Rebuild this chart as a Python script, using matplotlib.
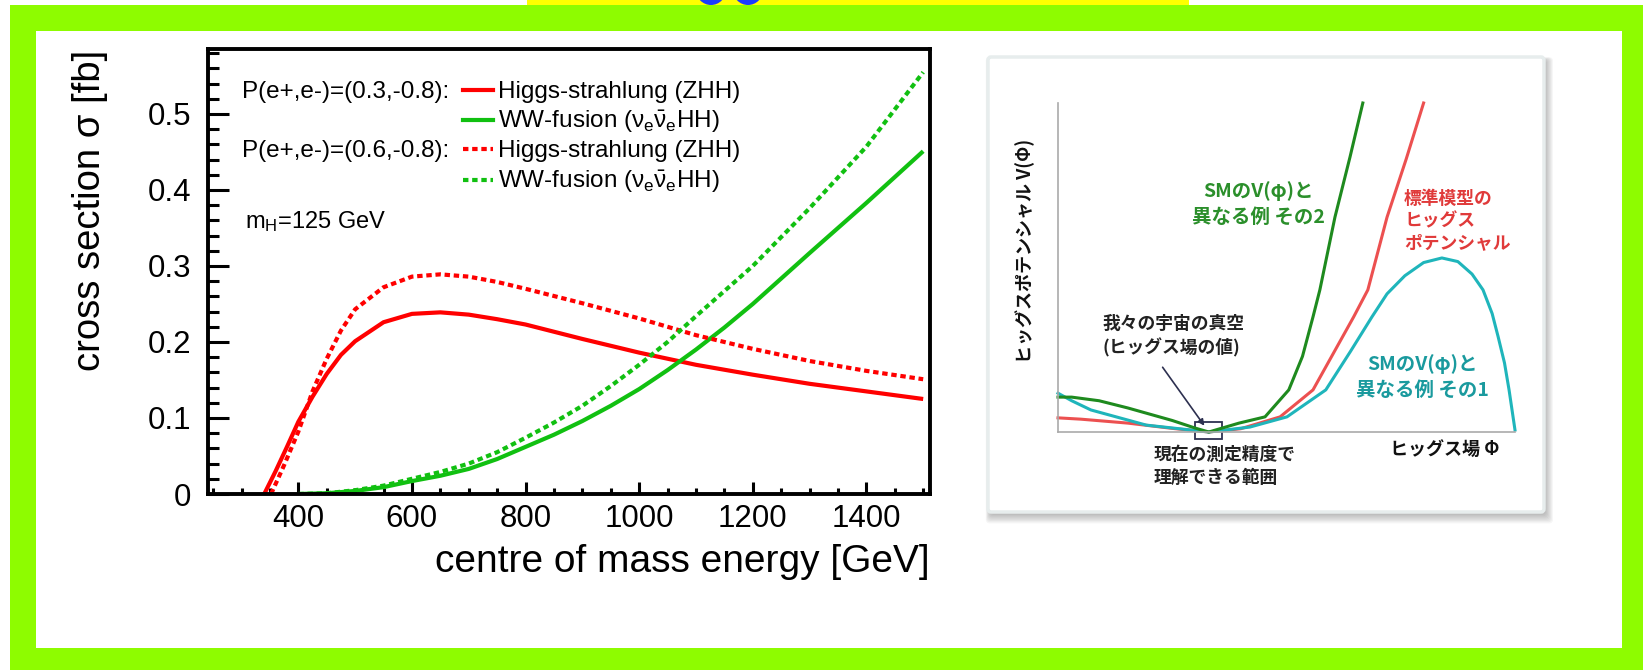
import matplotlib
matplotlib.use("Agg")
import matplotlib.pyplot as plt
import matplotlib.ticker as mticker
from matplotlib.patches import Rectangle, Circle, FancyBboxPatch, FancyArrowPatch
from matplotlib.lines import Line2D

plt.rcParams['font.family'] = ['Liberation Sans', 'DejaVu Sans']
plt.rcParams['mathtext.fontset'] = 'custom'
plt.rcParams['mathtext.rm'] = 'Liberation Sans'
plt.rcParams['mathtext.it'] = 'Liberation Sans'
plt.rcParams['mathtext.bf'] = 'Liberation Sans:bold'

W, H = 1643, 670

# ---- double Higgs production cross sections [fb] vs centre of mass energy [GeV]
zhh_e_pol03 = [340, 360, 380, 400, 425, 450, 475, 500, 550, 600, 650, 700, 750,
               800, 900, 1000, 1100, 1200, 1300, 1400, 1500]
zhh_xs_pol03 = [0.0, 0.030, 0.062, 0.095, 0.128, 0.158, 0.183, 0.201, 0.226, 0.237,
                0.239, 0.236, 0.230, 0.223, 0.204, 0.186, 0.170, 0.157, 0.145,
                0.135, 0.125]
zhh_e_pol06 = [352, 375, 400, 425, 450, 475, 500, 550, 600, 650, 700, 750, 800,
               900, 1000, 1100, 1200, 1300, 1400, 1500]
zhh_xs_pol06 = [0.0, 0.038, 0.082, 0.135, 0.178, 0.215, 0.243, 0.272, 0.286, 0.289,
                0.286, 0.279, 0.270, 0.251, 0.231, 0.209, 0.191, 0.175, 0.162, 0.151]
ww_e = [400, 450, 500, 550, 600, 650, 700, 750, 800, 850, 900, 950, 1000, 1050,
        1100, 1150, 1200, 1300, 1400, 1500]
ww_xs_pol03 = [0.0, 0.001, 0.004, 0.009, 0.017, 0.024, 0.033, 0.046, 0.062, 0.078,
               0.096, 0.116, 0.138, 0.163, 0.190, 0.219, 0.250, 0.317, 0.383, 0.451]
ww_xs_pol06 = [0.0, 0.001, 0.005, 0.011, 0.020, 0.029, 0.040, 0.055, 0.074, 0.094,
               0.116, 0.142, 0.170, 0.200, 0.234, 0.267, 0.300, 0.376, 0.457, 0.555]

x_ticks = [400, 600, 800, 1000, 1200, 1400]
y_ticks = [0, 0.1, 0.2, 0.3, 0.4, 0.5]
y_tick_labels = ['0', '0.1', '0.2', '0.3', '0.4', '0.5']

# ---- Higgs potential sketch (field value, potential), arbitrary units
sm_phi = [0.0, 0.05, 0.153, 0.25, 0.33, 0.40, 0.486, 0.558, 0.647, 0.678, 0.72,
          0.762, 0.80]
sm_v = [0.043, 0.039, 0.027, 0.011, 0.0, 0.010, 0.046, 0.128, 0.35, 0.432, 0.653,
        0.83, 1.0]
alt2_phi = [0.0, 0.03, 0.09, 0.153, 0.25, 0.30, 0.33, 0.396, 0.453, 0.505, 0.535,
            0.558, 0.573, 0.606, 0.639, 0.667]
alt2_v = [0.106, 0.106, 0.095, 0.073, 0.035, 0.012, 0.0, 0.027, 0.046, 0.128, 0.23,
          0.35, 0.432, 0.653, 0.836, 1.0]
alt1_phi = [0.0, 0.03, 0.072, 0.193, 0.33, 0.42, 0.501, 0.586, 0.64, 0.687, 0.72,
            0.759, 0.80, 0.84, 0.875, 0.906, 0.93, 0.95, 0.963, 0.977, 0.987, 1.0]
alt1_v = [0.118, 0.095, 0.067, 0.021, 0.0, 0.015, 0.046, 0.128, 0.245, 0.35, 0.42,
          0.475, 0.515, 0.529, 0.518, 0.48, 0.432, 0.36, 0.29, 0.21, 0.128, 0.006]


def fx(px):
    return px / W


def fy(py):
    return 1.0 - py / H


fig = plt.figure(figsize=(W / 100, H / 100), dpi=100)

# ---- slide background: frame, banner, panel
bg = fig.add_axes([0, 0, 1, 1])
bg.set_xlim(0, W)
bg.set_ylim(H, 0)
bg.axis('off')
bg.add_patch(Rectangle((10, 5), W - 10, H - 5, color='#8efc00', lw=0))
bg.add_patch(Rectangle((527, 0), 662, 5, color='#ffff00', lw=0))
for cx in (711, 748):
    bg.add_patch(Circle((cx, -10), 15, color='#1a3cff', lw=0))
bg.add_patch(Rectangle((36, 31), 1586, 617, color='white', lw=0))

# card with drop shadow
for i in range(8):
    bg.add_patch(FancyBboxPatch((988 + 2 - i * 0.6, 57 + 3 - i * 0.4),
                                556 + i * 1.6, 455 + i * 1.6,
                                boxstyle='round,pad=0,rounding_size=4',
                                fc='#303030', ec='none', alpha=0.045))
bg.add_patch(FancyBboxPatch((988, 57), 556, 455,
                            boxstyle='round,pad=0,rounding_size=3',
                            fc='white', ec='#e7eded', lw=2.5))

# ---- cross section plot
ax = fig.add_axes([fx(208), fy(494), (930 - 208) / W, (494 - 49) / H])
ax.plot(zhh_e_pol03, zhh_xs_pol03, color='#ff0000', lw=3.0, solid_capstyle='butt')
ax.plot(ww_e, ww_xs_pol03, color='#11c011', lw=3.0, solid_capstyle='butt')
ax.plot(zhh_e_pol06, zhh_xs_pol06, color='#ff0000', lw=3.0, ls=(0, (1.3, 0.9)))
ax.plot(ww_e, ww_xs_pol06, color='#11c011', lw=3.0, ls=(0, (1.3, 0.9)))
ax.set_xlim(241, 1512)
ax.set_ylim(0, 0.5855)
ax.set_xticks(x_ticks)
ax.set_yticks(y_ticks)
ax.set_yticklabels(y_tick_labels)
ax.xaxis.set_minor_locator(mticker.MultipleLocator(50))
ax.yaxis.set_minor_locator(mticker.MultipleLocator(0.02))
for sp in ax.spines.values():
    sp.set_linewidth(2.8)
ax.tick_params(which='both', direction='in', top=False, right=False, width=2.2,
               labelsize=22.5)
ax.tick_params(axis='x', which='major', length=9, pad=7.5)
ax.tick_params(axis='x', which='minor', length=4.5)
ax.tick_params(axis='y', which='major', length=15, pad=12)
ax.tick_params(axis='y', which='minor', length=8)

fig.text(fx(90), fy(50), 'cross section σ [fb]', rotation=90, ha='center', va='top',
         fontsize=27.5)
fig.text(fx(930), fy(572), 'centre of mass energy [GeV]', ha='right', va='baseline',
         fontsize=28)

# legend
leg_fs = 17.5
nu_label = r'WW-fusion ($\nu_\mathregular{e}\bar{\nu}_\mathregular{e}$HH)'
rows = [
    (98, 'P(e+,e-)=(0.3,-0.8):', '#ff0000', '-', 'Higgs-strahlung (ZHH)'),
    (128, None, '#11c011', '-', nu_label),
    (157, 'P(e+,e-)=(0.6,-0.8):', '#ff0000', (0, (1.3, 0.9)), 'Higgs-strahlung (ZHH)'),
    (188, None, '#11c011', (0, (1.3, 0.9)), nu_label),
]
for base, head, col, style, lab in rows:
    if head:
        fig.text(fx(242), fy(base), head, ha='left', va='baseline', fontsize=leg_fs)
    fig.add_artist(Line2D([fx(463), fx(493)], [fy(base - 8), fy(base - 8)],
                          color=col, lw=3.0, ls=style))
    fig.text(fx(498), fy(base), lab, ha='left', va='baseline', fontsize=leg_fs)
fig.text(fx(245), fy(228), r'm$_\mathregular{H}$=125 GeV', ha='left', va='baseline',
         fontsize=17)

# ---- Higgs potential sketch
ax2 = fig.add_axes([fx(1058), fy(432), (1515 - 1058) / W, (432 - 103) / H])
ax2.plot(sm_phi, sm_v, color='#ec5050', lw=2.2)
ax2.plot(alt1_phi, alt1_v, color='#1fb5bb', lw=2.2)
ax2.plot(alt2_phi, alt2_v, color='#1e8a1e', lw=2.2)
ax2.set_xlim(0, 1)
ax2.set_ylim(0, 1)
ax2.set_xticks([])
ax2.set_yticks([])
ax2.patch.set_alpha(0)
for s in ('top', 'right'):
    ax2.spines[s].set_visible(False)
for s in ('left', 'bottom'):
    ax2.spines[s].set_color('#aaaaaa')
    ax2.spines[s].set_linewidth(1.2)
for ln in ax2.lines:
    ln.set_clip_on(False)

jp = ['Noto Sans CJK JP', 'DejaVu Sans']
bg.text(1025, 251, 'ヒッグスポテンシャル V(Φ)', rotation=90, ha='center', va='center',
        fontsize=13, family=jp, weight='bold', color='#111111')
bg.text(1445, 450, 'ヒッグス場 Φ', ha='center', va='center', fontsize=13, family=jp,
        weight='bold', color='#111111')
bg.text(1102, 336, '我々の宇宙の真空\n(ヒッグス場の値)', ha='left', va='center',
        fontsize=12.8, family=jp, weight='bold', color='#222222', linespacing=1.35)
bg.text(1154, 466, '現在の測定精度で\n理解できる範囲', ha='left', va='center',
        fontsize=12.8, family=jp, weight='bold', color='#222222', linespacing=1.35)
bg.text(1258, 204, 'SMのV(φ)と\n異なる例 その2', ha='center', va='center',
        fontsize=14, family=jp, weight='bold', color='#2b8f2b', linespacing=1.5)
bg.text(1404, 221, '標準模型の\nヒッグス\nポテンシャル', ha='left', va='center',
        fontsize=12.8, family=jp, weight='bold', color='#e03a3a', linespacing=1.3)
bg.text(1422, 377, 'SMのV(φ)と\n異なる例 その1', ha='center', va='center',
        fontsize=14, family=jp, weight='bold', color='#1a9a9e', linespacing=1.5)

bg.add_patch(Rectangle((1195, 422), 27, 17, fill=False, ec='#2d3050', lw=1.3))
bg.add_patch(FancyArrowPatch((1161, 365), (1206, 428), arrowstyle='-|>',
                             mutation_scale=9, color='#2d3050', lw=1.2))

fig.savefig('out.png', dpi=100)
